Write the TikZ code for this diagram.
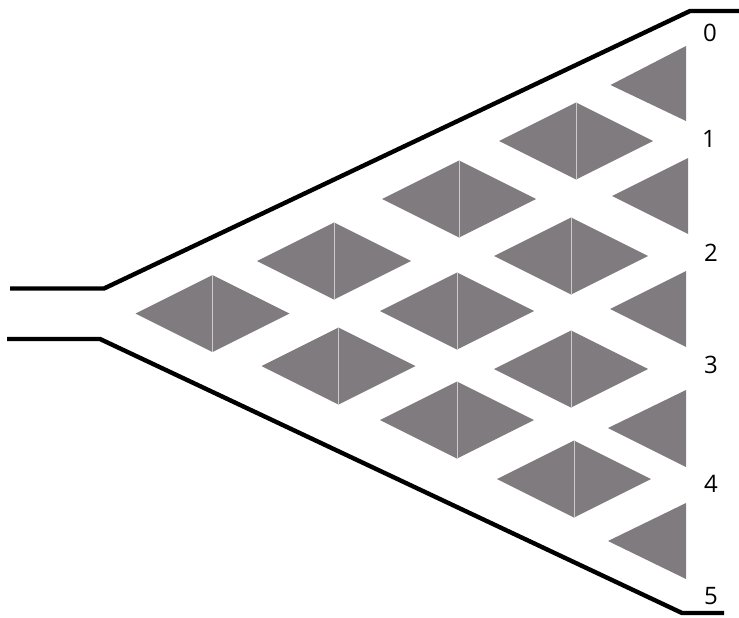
\documentclass[tikz,border=0pt]{standalone}
\usepackage{fontspec}
\setmainfont{Open Sans}
\definecolor{dgray}{HTML}{807B7E}
\tikzset{
  px/.style={x=1pt,y=-1pt},
  wall/.style={line width=4.4pt,black,line cap=butt,line join=miter},
  tri/.style={fill=dgray,draw=none},
  seam/.style={draw=white!60!dgray,line width=0.7pt},
  lab/.style={font=\fontsize{24}{26}\selectfont,text=black,inner sep=0pt,anchor=center}
}
\newcommand{\diam}[3]{% cx cy name
  \fill[tri] (#1-77,#2) -- (#1,#2-38.5) -- (#1+77,#2) -- (#1,#2+38.5) -- cycle;
  \draw[seam] (#1,#2-38.5) -- (#1,#2+38.5);
}
\begin{document}
\begin{tikzpicture}[px]
\useasboundingbox (0,0) rectangle (739,618);
\coordinate (a1) at (10,288.5);
\coordinate (a2) at (104,288.5);
\coordinate (a3) at (690,11);
\coordinate (a4) at (739,11);
\coordinate (b1) at (7,339);
\coordinate (b2) at (100,339);
\coordinate (b3) at (682,613);
\coordinate (b4) at (724,613);
\draw[wall] (a1) -- (a2) -- (a3) -- (a4);
\draw[wall] (b1) -- (b2) -- (b3) -- (b4);
\diam{212.5}{313.5}{}
\diam{334}{261}{}
\diam{338.5}{366}{}
\diam{459}{199}{}
\diam{457}{311}{}
\diam{457}{420}{}
\diam{576}{141}{}
\diam{571}{256}{}
\diam{571}{369}{}
\diam{574}{479}{}
\fill[tri] (610.5,85) -- (686,46) -- (686,121) -- cycle;
\fill[tri] (612,196) -- (688,158) -- (688,234) -- cycle;
\fill[tri] (610,309) -- (686,271) -- (686,347) -- cycle;
\fill[tri] (608,428) -- (686,390) -- (686,467) -- cycle;
\fill[tri] (608,541) -- (686,503) -- (686,579) -- cycle;
\node[lab] (n0) at (710,33) {0};
\node[lab] (n1) at (709,139) {1};
\node[lab] (n2) at (711,253) {2};
\node[lab] (n3) at (711,365) {3};
\node[lab] (n4) at (711,484) {4};
\node[lab] (n5) at (711,596) {5};
\end{tikzpicture}
\end{document}
